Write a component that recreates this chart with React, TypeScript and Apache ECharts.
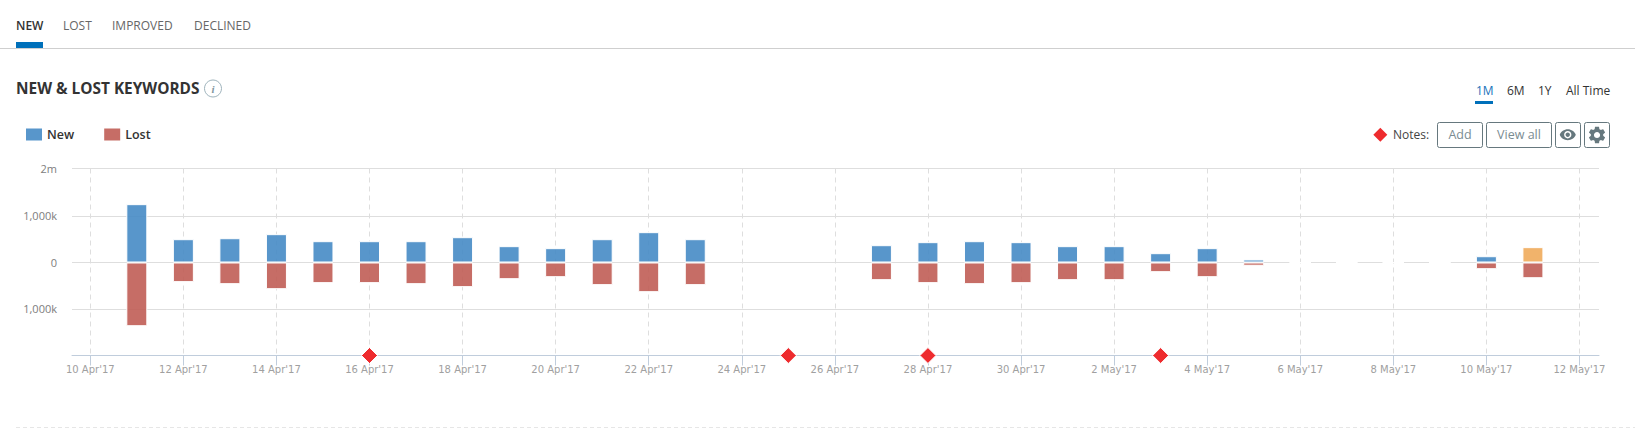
import React, { useEffect, useRef } from "react";
import * as echarts from "echarts";

const FONT = "'Open Sans', 'Noto Sans', sans-serif";
const AXIS_FONT = "'DejaVu Sans', sans-serif";

const dates = [
  "2017-04-11", "2017-04-12", "2017-04-13", "2017-04-14", "2017-04-15", "2017-04-16", "2017-04-17",
  "2017-04-18", "2017-04-19", "2017-04-20", "2017-04-21", "2017-04-22", "2017-04-23",
  "2017-04-27", "2017-04-28", "2017-04-29", "2017-04-30", "2017-05-01", "2017-05-02", "2017-05-03",
  "2017-05-04", "2017-05-05", "2017-05-06", "2017-05-07", "2017-05-08", "2017-05-09", "2017-05-10", "2017-05-11",
];
const newValues = [
  1254, 501, 522, 609, 458, 458, 458, 544, 351, 308, 501, 652, 501,
  372, 437, 458, 437, 351, 351, 200, 308, 65, 0, 0, 0, 0, 135, 330,
];
const lostValues = [
  1370, 422, 466, 574, 444, 444, 466, 530, 359, 316, 487, 638, 487,
  380, 444, 466, 444, 380, 380, 208, 316, 70, 0, 0, 0, 0, 144, 338,
];
const partialDate = "2017-05-11";
const noteDates = ["2017-04-16", "2017-04-25", "2017-04-28", "2017-05-03"];
const tickDates = [
  "2017-04-10", "2017-04-12", "2017-04-14", "2017-04-16", "2017-04-18", "2017-04-20", "2017-04-22", "2017-04-24",
  "2017-04-26", "2017-04-28", "2017-04-30", "2017-05-02", "2017-05-04", "2017-05-06", "2017-05-08", "2017-05-10", "2017-05-12",
];
const tickLabels = [
  "10 Apr'17", "12 Apr'17", "14 Apr'17", "16 Apr'17", "18 Apr'17", "20 Apr'17", "22 Apr'17", "24 Apr'17",
  "26 Apr'17", "28 Apr'17", "30 Apr'17", "2 May'17", "4 May'17", "6 May'17", "8 May'17", "10 May'17", "12 May'17",
];
const yTop = 2021;
const yBottom = -2000;
const yTicks = [yBottom, -1000, 0, 1000, yTop];
const yTickLabels = ["", "1,000k", "0", "1,000k", "2m"];

const BLUE = "rgba(70,139,197,0.9)";
const RED = "rgba(192,93,85,0.9)";
const ORANGE = "rgba(239,171,91,0.9)";
const DAY = 86400000;
const day = (d: string) => (Date.parse(d + "T00:00:00Z") - Date.parse(tickDates[0] + "T00:00:00Z")) / DAY;
const tickDays = tickDates.map(day);

const GEAR =
  "M19.14,12.94c0.04-0.3,0.06-0.61,0.06-0.94c0-0.32-0.02-0.64-0.07-0.94l2.03-1.58c0.18-0.14,0.23-0.41,0.12-0.61l-1.92-3.32c-0.12-0.22-0.37-0.29-0.59-0.22l-2.39,0.96c-0.5-0.38-1.03-0.7-1.62-0.94L14.4,2.81c-0.04-0.24-0.24-0.41-0.48-0.41h-3.84c-0.24,0-0.43,0.17-0.47,0.41L9.25,5.35C8.66,5.59,8.12,5.92,7.63,6.29L5.24,5.33c-0.22-0.08-0.47,0-0.59,0.22L2.74,8.87C2.62,9.08,2.66,9.34,2.86,9.48l2.03,1.58C4.84,11.36,4.8,11.69,4.8,12s0.02,0.64,0.07,0.94l-2.03,1.58c-0.18,0.14-0.23,0.41-0.12,0.61l1.92,3.32c0.12,0.22,0.37,0.29,0.59,0.22l2.39-0.96c0.5,0.38,1.03,0.7,1.62,0.94l0.36,2.54c0.05,0.24,0.24,0.41,0.48,0.41h3.84c0.24,0,0.44-0.17,0.47-0.41l0.36-2.54c0.59-0.24,1.13-0.56,1.62-0.94l2.39,0.96c0.22,0.08,0.47,0,0.59-0.22l1.92-3.32c0.12-0.22,0.07-0.47-0.12-0.61L19.14,12.94z M12,15.6c-1.98,0-3.6-1.62-3.6-3.6s1.62-3.6,3.6-3.6s3.6,1.62,3.6,3.6S13.98,15.6,12,15.6z";
const EYE =
  "M12 4.5C7 4.5 2.73 7.61 1 12c1.73 4.39 6 7.5 11 7.5s9.27-3.11 11-7.5c-1.73-4.39-6-7.5-11-7.5zM12 17c-2.76 0-5-2.24-5-5s2.24-5 5-5 5 2.24 5 5-2.24 5-5 5zm0-8c-1.66 0-3 1.34-3 3s1.34 3 3 3 3-1.34 3-3-1.34-3-3-3z";
echarts.graphic.registerShape("gearIcon", echarts.graphic.extendPath(GEAR, {}) as any);
echarts.graphic.registerShape("eyeIcon", echarts.graphic.extendPath(EYE, {}) as any);

const label = (text: string, x: number, y: number, size: number, fill: string, weight: any = 400, align = "left") => ({
  type: "text",
  x,
  y,
  silent: true,
  style: { text, fill, font: `${weight} ${size}px ${FONT}`, textAlign: align, textVerticalAlign: "middle" },
});
const button = (x: number, w: number) => ({
  type: "rect",
  silent: true,
  shape: { x: x + 0.5, y: 122.5, width: w, height: 25, r: 2 },
  style: { fill: "#fff", stroke: "#66787e", lineWidth: 1 },
});

export default function App() {
  const ref = useRef<HTMLDivElement>(null);
  useEffect(() => {
    document.body.style.margin = "0";
    const chart = echarts.init(ref.current!, null, { renderer: "svg" });
    chart.setOption({
      animation: false,
      backgroundColor: "#fff",
      textStyle: { fontFamily: FONT },
      grid: { left: 72, right: 36, top: 168.5, height: 187, containLabel: false },
      legend: {
        left: 26,
        top: 128,
        padding: 0,
        icon: "rect",
        itemWidth: 16,
        itemHeight: 12,
        itemGap: 30,
        selectedMode: false,
        data: ["New", "Lost"],
        itemStyle: { borderWidth: 0 },
        textStyle: { fontFamily: FONT, fontSize: 12.5, fontWeight: 600, color: "#333" },
      },
      xAxis: {
        type: "value",
        min: -0.393,
        max: 32.42,
        axisLine: { onZero: false, lineStyle: { color: "#c0cddc", width: 1 } },
        axisTick: { show: true, length: 10, customValues: tickDays, lineStyle: { color: "#c0cddc" } },
        axisLabel: {
          customValues: tickDays,
          formatter: (v: number) => tickLabels[tickDays.indexOf(v)] ?? "",
          color: "#a0a0a0",
          fontFamily: AXIS_FONT,
          fontSize: 10,
          margin: 8.5,
          hideOverlap: false,
        },
        splitLine: { show: true, lineStyle: { color: "#dedede", type: [5, 4], width: 1 } },
      },
      yAxis: {
        type: "value",
        min: yBottom,
        max: yTop,
        axisLine: { show: false },
        axisTick: { show: false, customValues: yTicks },
        axisLabel: {
          customValues: yTicks,
          formatter: (v: number) => yTickLabels[yTicks.indexOf(v)] ?? "",
          color: "#7d7d7d",
          fontFamily: FONT,
          fontSize: 11,
          margin: 15,
        },
        splitLine: { show: true, lineStyle: { color: "#dedede", width: 1 } },
      },
      series: [
        {
          name: "New",
          type: "bar",
          stack: "k",
          barWidth: 21,
          itemStyle: { color: BLUE, borderColor: "#fff", borderWidth: 1 },
          data: dates.map((d, i) =>
            d === partialDate
              ? { value: [day(d), newValues[i]], itemStyle: { color: ORANGE, borderColor: "#fff", borderWidth: 1 } }
              : { value: [day(d), newValues[i]] }
          ),
        },
        {
          name: "Lost",
          type: "bar",
          stack: "k",
          barWidth: 21,
          itemStyle: { color: RED, borderColor: "#fff", borderWidth: 1 },
          data: dates.map((d, i) => [day(d), -lostValues[i]]),
        },
        {
          name: "Notes",
          type: "scatter",
          symbol: "diamond",
          symbolSize: 16,
          clip: false,
          z: 5,
          itemStyle: { color: "#ee2b2e", borderColor: "#fff", borderWidth: 1, opacity: 1 },
          data: noteDates.map((d) => [day(d), yBottom]),
        },
      ],
      graphic: [
        { type: "rect", silent: true, shape: { x: 0, y: 48, width: 1635, height: 1 }, style: { fill: "#cfcfcf" } },
        { type: "rect", silent: true, shape: { x: 16, y: 42, width: 27, height: 6 }, style: { fill: "#0070ba" } },
        label("NEW", 16, 25.5, 12, "#333", 600),
        label("LOST", 63, 25.5, 12, "#666"),
        label("IMPROVED", 112, 25.5, 12, "#666"),
        label("DECLINED", 194, 25.5, 12, "#666"),
        label("NEW & LOST KEYWORDS", 16, 88, 15.4, "#333", 700),
        {
          type: "circle",
          silent: true,
          shape: { cx: 213, cy: 88.5, r: 8.5 },
          style: { fill: "#fff", stroke: "#9db2bb", lineWidth: 1 },
        },
        {
          type: "text",
          x: 213,
          y: 88.5,
          silent: true,
          style: { text: "i", fill: "#7f979f", font: `italic 700 11px 'Liberation Serif', serif`, textAlign: "center", textVerticalAlign: "middle" },
        },
        label("1M", 1476, 90.5, 12, "#1a73ba"),
        label("6M", 1507, 90.5, 12, "#333"),
        label("1Y", 1538, 90.5, 12, "#333"),
        label("All Time", 1566, 90.5, 12, "#333"),
        { type: "rect", silent: true, shape: { x: 1475, y: 101, width: 18, height: 3 }, style: { fill: "#0070ba" } },
        {
          type: "polygon",
          silent: true,
          shape: { points: [[1380.3, 127.7], [1387.3, 134.7], [1380.3, 141.7], [1373.3, 134.7]] },
          style: { fill: "#ee2b2e" },
        },
        label("Notes:", 1393, 134.5, 12, "#444"),
        button(1437, 45),
        button(1486, 65),
        button(1555, 25),
        button(1584, 25),
        label("Add", 1460, 134.5, 12.5, "#7a8c92", 400, "center"),
        label("View all", 1519, 134.5, 12.5, "#7a8c92", 400, "center"),
        { type: "eyeIcon", silent: true, x: 1559, y: 126, scaleX: 0.73, scaleY: 0.73, style: { fill: "#66787e" } },
        { type: "gearIcon", silent: true, x: 1586.7, y: 124.7, scaleX: 0.86, scaleY: 0.86, style: { fill: "#66787e" } },
        {
          type: "line",
          silent: true,
          shape: { x1: 16, y1: 427.5, x2: 1635, y2: 427.5 },
          style: { stroke: "#e6e6e6", lineWidth: 1, lineDash: [4, 3] },
        },
      ],
    });
    return () => chart.dispose();
  }, []);
  return <div ref={ref} style={{ position: "absolute", left: 0, top: 0, width: 1635, height: 435 }} />;
}
